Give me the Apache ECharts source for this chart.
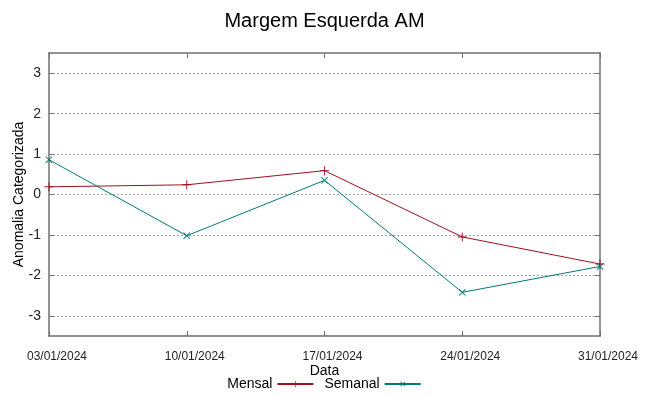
<!DOCTYPE html>
<html>
<head>
<meta charset="utf-8">
<script src="https://cdn.jsdelivr.net/npm/echarts@6/dist/echarts.min.js"></script>
<style>
  html, body { margin: 0; padding: 0; background: #fff; }
  #main { width: 649px; height: 396px; }
</style>
</head>
<body>
<div id="main"></div>
<script>
var datas = ['03/01/2024', '10/01/2024', '17/01/2024', '24/01/2024', '31/01/2024'];
var mensal = [0.19, 0.24, 0.59, -1.05, -1.72];
var semanal = [0.86, -1.02, 0.35, -2.42, -1.78];
var yTicks = [-3, -2, -1, 0, 1, 2, 3];

var corMensal = '#a01020';
var corSemanal = '#007878';
var eixo = '#707070';
// simbolos estilo gnuplot (+ e x)
var mais = 'path://M4.5,0h1v10h-1zM0,4.5h10v1h-10z';

var myChart = echarts.init(document.getElementById('main'));
var option = {
    animation: false,
    textStyle: { fontFamily: 'Liberation Sans' },
    title: {
        text: 'Margem Esquerda AM',
        left: 'center',
        top: 6,
        textStyle: { fontSize: 20, fontWeight: 'normal', color: '#000' }
    },
    legend: {
        bottom: 0,
        left: 'center',
        align: 'right',
        itemWidth: 36,
        itemHeight: 8,
        itemGap: 10,
        textStyle: { fontSize: 14, color: '#000' },
        data: ['Mensal', 'Semanal']
    },
    grid: { left: 49, right: 49, top: 53, bottom: 60, containLabel: false, outerBoundsMode: 'none' },
    xAxis: [{
        type: 'category',
        data: datas,
        boundaryGap: false,
        name: 'Data',
        nameLocation: 'middle',
        nameGap: 28,
        nameMoveOverlap: false,
        nameTextStyle: { fontSize: 14, color: '#000' },
        axisLine: { onZero: false, lineStyle: { color: eixo, width: 1.5 } },
        axisTick: { inside: true, length: 5, alignWithLabel: true, lineStyle: { color: eixo } },
        axisLabel: { fontSize: 12, color: '#222', margin: 15, padding: [0, 0, 0, 16] },
        splitLine: { show: false }
    }, {
        type: 'category',
        data: datas,
        boundaryGap: false,
        position: 'top',
        axisLine: { onZero: false, lineStyle: { color: eixo, width: 1.5 } },
        axisTick: { inside: true, length: 5, lineStyle: { color: eixo } },
        axisLabel: { show: false }
    }],
    yAxis: [{
        type: 'value',
        min: -3.5,
        max: 3.5,
        name: 'Anomalia Categorizada',
        nameLocation: 'middle',
        nameGap: 23,
        nameMoveOverlap: false,
        nameTextStyle: { fontSize: 14, color: '#000' },
        axisLine: { show: true, onZero: false, lineStyle: { color: eixo, width: 1.5 } },
        axisTick: { show: true, inside: true, length: 5, lineStyle: { color: eixo }, customValues: yTicks },
        axisLabel: {
            fontSize: 14, color: '#222', margin: 8,
            customValues: yTicks
        },
        splitLine: {
            show: true,
            customValues: yTicks,
            lineStyle: { color: '#a0a0a0', type: [2, 2], width: 1 }
        }
    }, {
        type: 'value',
        min: -3.5,
        max: 3.5,
        position: 'right',
        axisLine: { show: true, onZero: false, lineStyle: { color: eixo, width: 1.5 } },
        axisTick: { show: true, inside: true, length: 5, lineStyle: { color: eixo }, customValues: yTicks },
        axisLabel: { show: false },
        splitLine: { show: false }
    }],
    series: [{
        name: 'Mensal',
        type: 'line',
        data: mensal,
        symbol: mais,
        symbolSize: 9,
        itemStyle: { color: corMensal },
        lineStyle: { color: corMensal, width: 1 }
    }, {
        name: 'Semanal',
        type: 'line',
        data: semanal,
        symbol: mais,
        symbolRotate: 45,
        symbolSize: 9,
        itemStyle: { color: corSemanal },
        lineStyle: { color: corSemanal, width: 1 }
    }]
};
myChart.setOption(option);
</script>
</body>
</html>
